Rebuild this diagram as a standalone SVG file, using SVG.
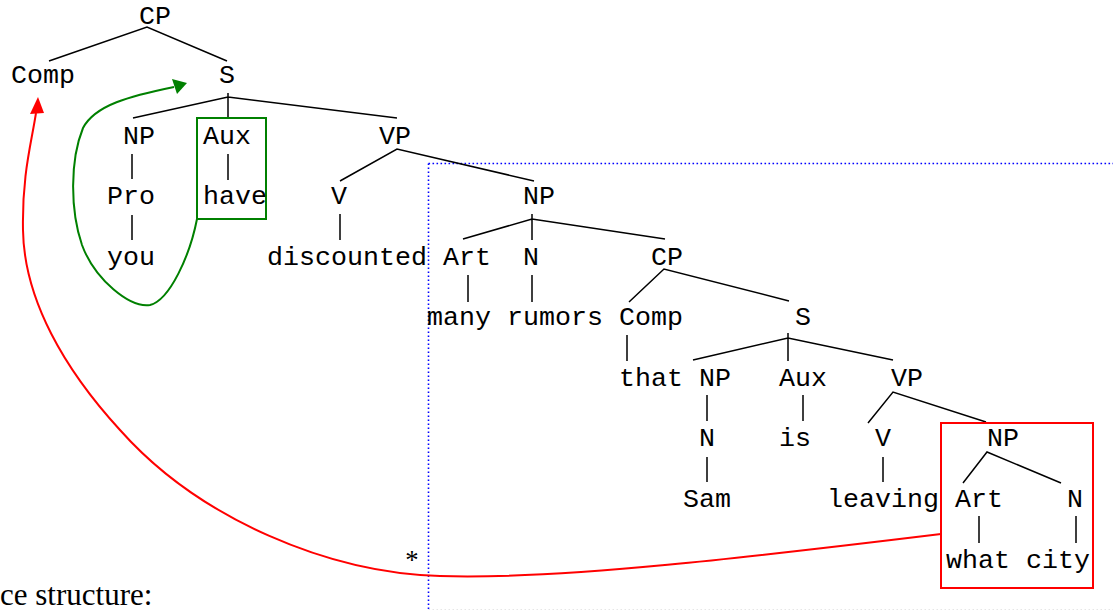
<svg xmlns="http://www.w3.org/2000/svg" width="1113" height="611" viewBox="0 0 1113 611">
<style>
.t{font-family:"Liberation Mono","Courier New",monospace;font-size:26.67px;fill:#000}
.s{font-family:"Liberation Serif","Times New Roman",serif;fill:#000}
.e{stroke:#000;stroke-width:1.5;fill:none;stroke-linecap:butt}
.dot{stroke:#0000ff;stroke-width:1.6;fill:none;stroke-dasharray:1.6 2.4}
</style>
<rect width="1113" height="611" fill="#fff"/>
<g id="guides">
<path class="dot" d="M428.5,163.5H1113M428.5,163.5V611"/>
<path d="M428.5,609.5H1113" stroke="#e6e6e6" stroke-width="1" stroke-dasharray="1.5 2.5" fill="none"/>
</g>
<g id="connectors">
<path class="e" d="M49,61L147,27L227,61"/>
<path class="e" d="M228,93V119M133,118L228,97L397,118"/>
<path class="e" d="M132,154V179M228,154V180M132,215V240"/>
<path class="e" d="M340,181L397,149L534,181M340,214V240"/>
<path class="e" d="M532,214V240M463,239L532,219L665,239"/>
<path class="e" d="M468,275V302M532,275V302"/>
<path class="e" d="M629,302L664,269L789,301M627,335V361"/>
<path class="e" d="M788,333V361M693,360L788,338L893,360"/>
<path class="e" d="M707,395V421M803,395V421"/>
<path class="e" d="M868,423L893,392L986,422"/>
<path class="e" d="M707,457V482M883,457V482"/>
<path class="e" d="M963,483L987,452L1061,483"/>
<path class="e" d="M979,516V543M1076,516V543"/>
<path d="M197,219C190,255 170,300 150,305C130,308 95,280 82,245C70,210 70,160 83,128C95,105 130,96 174,87" stroke="#008000" stroke-width="2" fill="none"/>
<polygon points="187,83 172,79 177,94" fill="#008000"/>
<path d="M941,534C760,556 560,580 440,576C330,573 200,520 120,430C65,370 24,300 23,230C22,175 31,145 36,113" stroke="#ff0000" stroke-width="2" fill="none"/>
<polygon points="38,97 30,114 44,113" fill="#ff0000"/>
</g>
<g id="box-have"><rect x="197" y="118" width="69" height="101" fill="none" stroke="#008000" stroke-width="2"/></g>
<g id="box-whatcity"><rect x="941" y="423" width="152" height="165" fill="none" stroke="#ff0000" stroke-width="2"/></g>
<g id="n-CP1"><text class="t" x="139" y="23.5">CP</text></g>
<g id="n-Comp1"><text class="t" x="11" y="83">Comp</text></g>
<g id="n-S1"><text class="t" x="219" y="83">S</text></g>
<g id="n-NP1"><text class="t" x="123" y="144">NP</text></g>
<g id="n-Aux1"><text class="t" x="203" y="144">Aux</text></g>
<g id="n-VP1"><text class="t" x="379" y="144">VP</text></g>
<g id="n-Pro"><text class="t" x="107" y="204">Pro</text></g>
<g id="n-have"><text class="t" x="203" y="204">have</text></g>
<g id="n-V1"><text class="t" x="331" y="204">V</text></g>
<g id="n-NP2"><text class="t" x="523" y="204">NP</text></g>
<g id="n-you"><text class="t" x="107" y="264.5">you</text></g>
<g id="n-discounted"><text class="t" x="267" y="264.5">discounted</text></g>
<g id="n-Art1"><text class="t" x="443" y="264.5">Art</text></g>
<g id="n-N1"><text class="t" x="523" y="264.5">N</text></g>
<g id="n-CP2"><text class="t" x="651" y="264.5">CP</text></g>
<g id="n-many"><text class="t" x="427" y="325">many</text></g>
<g id="n-rumors"><text class="t" x="507" y="325">rumors</text></g>
<g id="n-Comp2"><text class="t" x="619" y="325">Comp</text></g>
<g id="n-S2"><text class="t" x="795" y="325">S</text></g>
<g id="n-that"><text class="t" x="619" y="385.5">that</text></g>
<g id="n-NP3"><text class="t" x="699" y="385.5">NP</text></g>
<g id="n-Aux2"><text class="t" x="779" y="385.5">Aux</text></g>
<g id="n-VP2"><text class="t" x="891" y="385.5">VP</text></g>
<g id="n-N2"><text class="t" x="699" y="446">N</text></g>
<g id="n-is"><text class="t" x="779" y="446">is</text></g>
<g id="n-V2"><text class="t" x="875" y="446">V</text></g>
<g id="n-NP4"><text class="t" x="987" y="446">NP</text></g>
<g id="n-Sam"><text class="t" x="683" y="506.5">Sam</text></g>
<g id="n-leaving"><text class="t" x="827" y="506.5">leaving</text></g>
<g id="n-Art2"><text class="t" x="955" y="506.5">Art</text></g>
<g id="n-N3"><text class="t" x="1067" y="506.5">N</text></g>
<g id="n-what"><text class="t" x="946" y="568">what</text></g>
<g id="n-city"><text class="t" x="1026" y="568">city</text></g>
<g id="labels">
<text class="s" x="412" y="569" font-size="26.67" text-anchor="middle">*</text>
<text class="s" x="0" y="605" font-size="31">ce structure:</text>
</g>
</svg>
